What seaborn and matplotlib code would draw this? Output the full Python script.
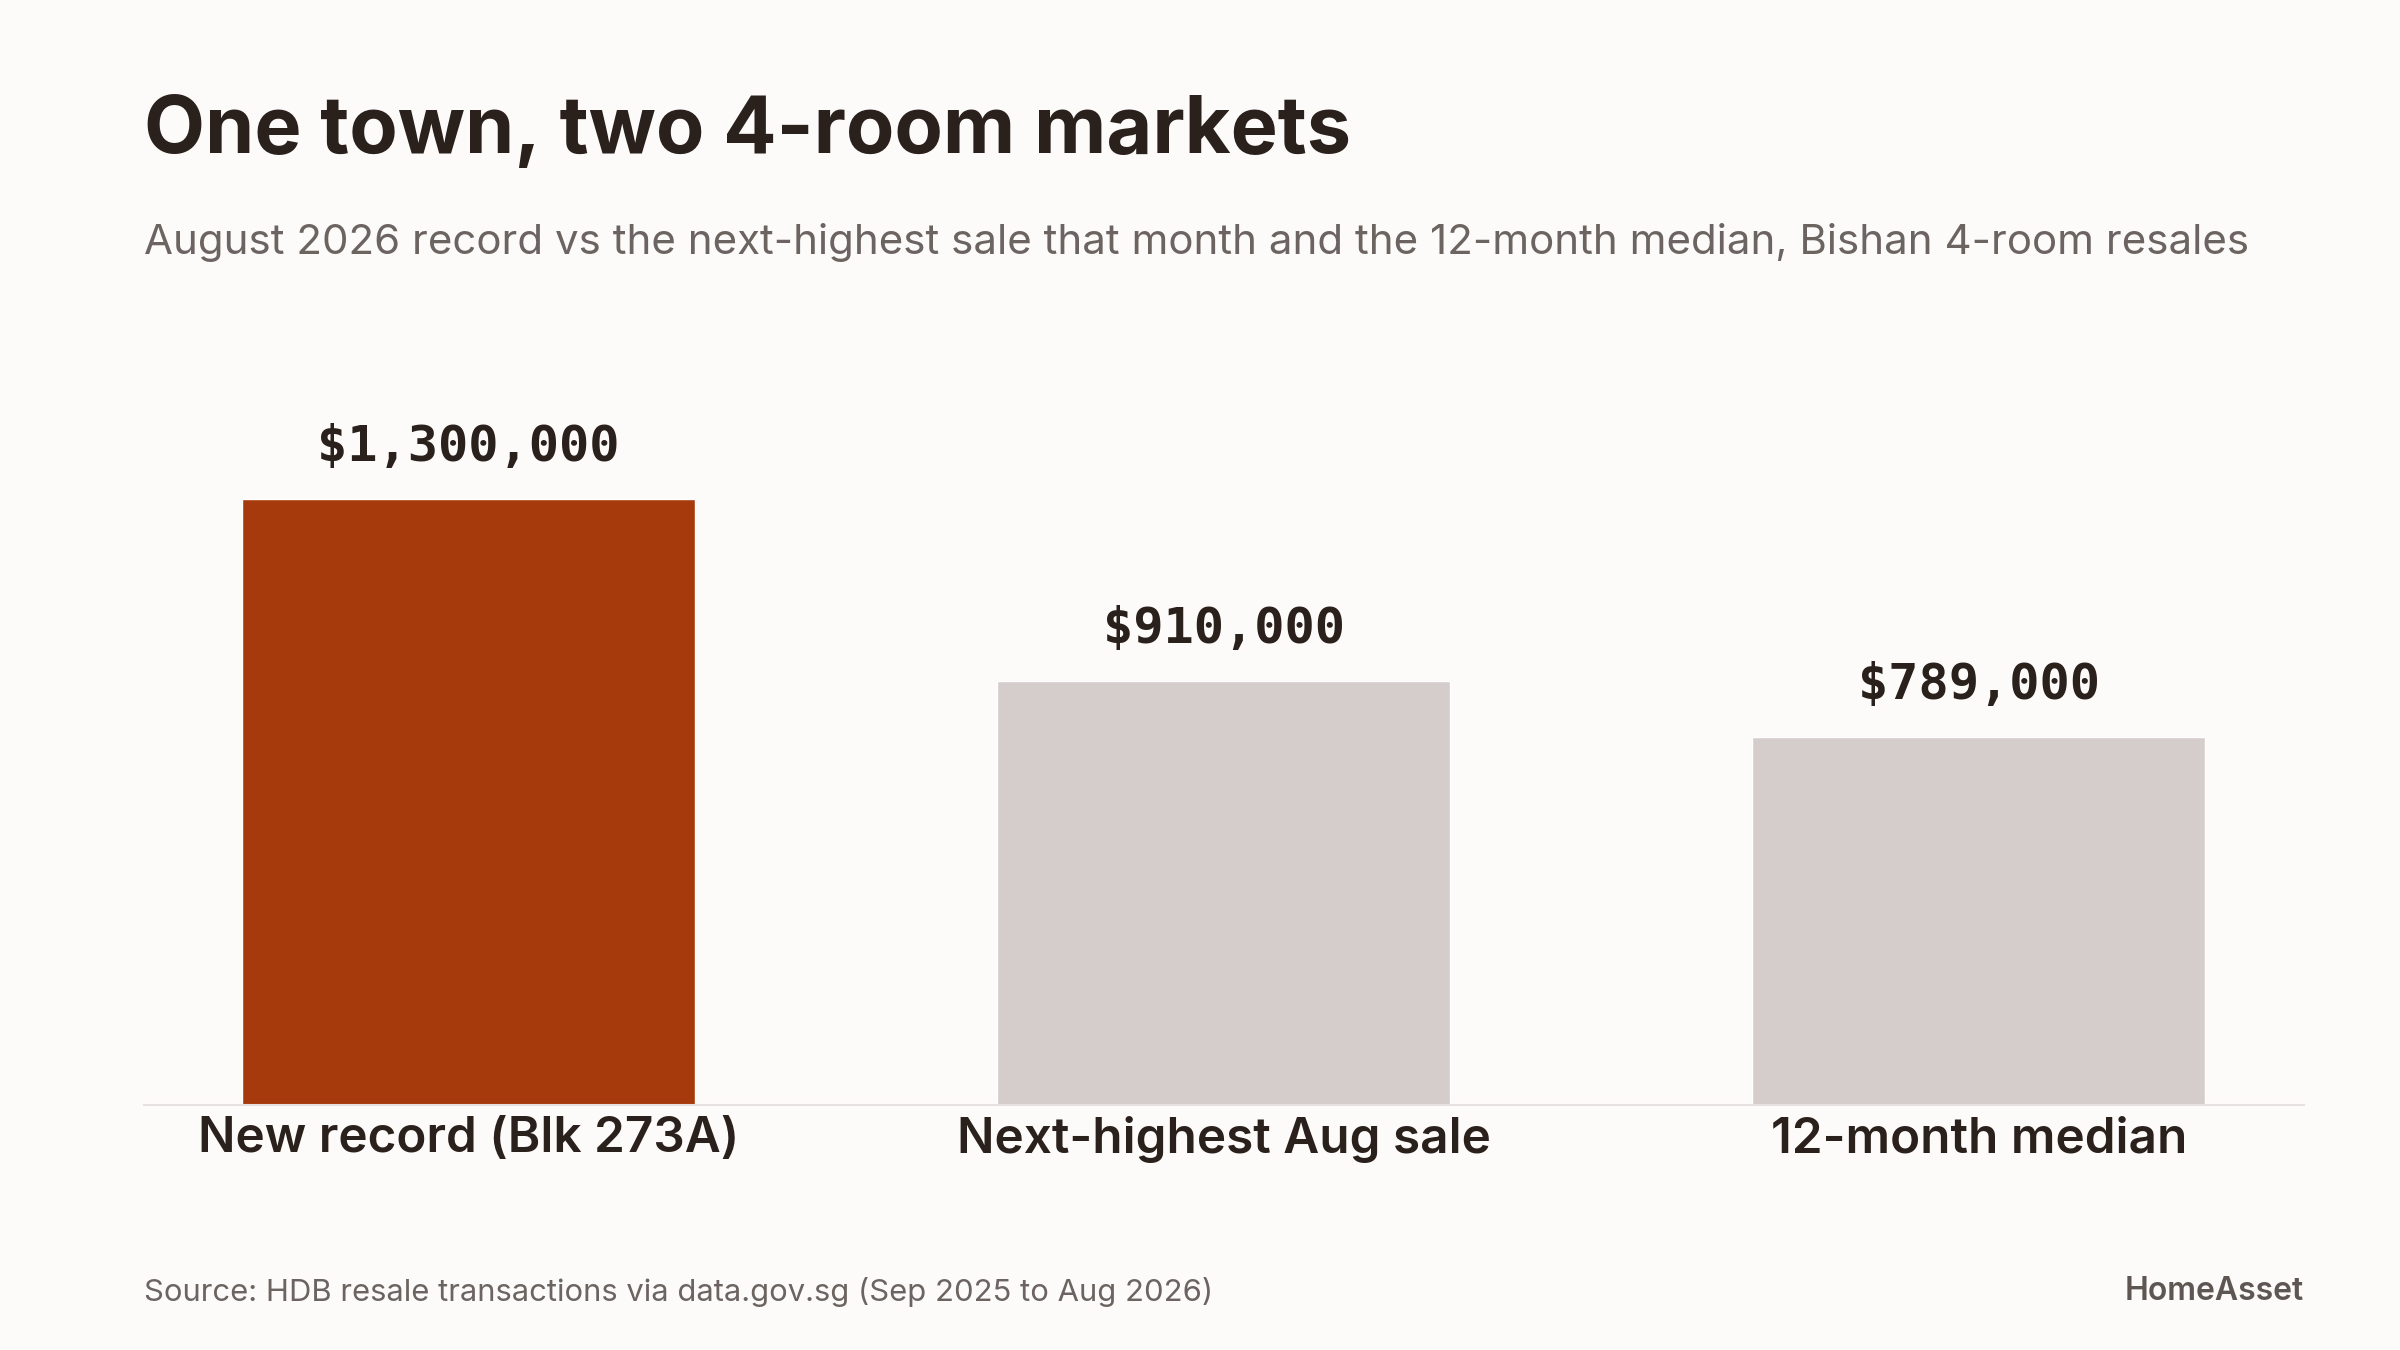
import matplotlib
matplotlib.use("Agg")
import matplotlib.pyplot as plt
import seaborn as sns
import pandas as pd

# ---- data ----
categories = ["New record (Blk 273A)", "Next-highest Aug sale", "12-month median"]
values = [1300000, 910000, 789000]
bar_colors = ["#a63a0d", "#d5cdcb", "#d5cdcb"]

title = "One town, two 4-room markets"
subtitle = ("August 2026 record vs the next-highest sale that month and the 12-month median, "
            "Bishan 4-room resales")
source = "Source: HDB resale transactions via data.gov.sg (Sep 2025 to Aug 2026)"
brand = "HomeAsset"

BG = "#fdfbfa"
DARK = "#2a201c"
GREY = "#6b6460"

sns.set_theme(style="white")
plt.rcParams["font.family"] = ["Inter", "DejaVu Sans"]

fig = plt.figure(figsize=(24, 13.5), dpi=100, facecolor=BG)
ax = fig.add_axes([0.05995, 0.1814, 0.8999, 0.5612])
ax.set_facecolor(BG)

df = pd.DataFrame({"category": categories, "value": values})
sns.barplot(data=df, x="category", y="value", hue="category", palette=bar_colors,
            width=0.6, saturation=1, legend=False, ax=ax)

ax.set_xlim(-0.43, 2.43)
ax.set_ylim(0, max(values) * 1.25)
ax.set_xlabel("")
ax.set_ylabel("")
ax.set_yticks([])
for s in ["top", "right", "left"]:
    ax.spines[s].set_visible(False)
ax.spines["bottom"].set_color("#e6e0de")
ax.spines["bottom"].set_linewidth(1.5)
ax.tick_params(axis="x", length=0, pad=8)
for lab in ax.get_xticklabels():
    lab.set_fontsize(35.6)
    lab.set_fontweight("semibold")
    lab.set_color(DARK)

for p, v in zip(ax.patches, values):
    ax.annotate(f"${v:,.0f}", (p.get_x() + p.get_width() / 2, p.get_height()),
                xytext=(0, 20), textcoords="offset points", ha="center", va="bottom",
                fontsize=36.2, family="DejaVu Sans Mono", fontweight="bold", color=DARK)

fig.text(0.05995, 1 - 153 / 1350, title, fontsize=57, fontweight="bold", color=DARK,
         ha="left", va="baseline")
fig.text(0.05995, 1 - 243 / 1350, subtitle, fontsize=30.25, color=GREY, ha="left", va="center")
fig.text(0.05995, 1 - 1292 / 1350, source, fontsize=22.3, color=GREY, ha="left", va="center")
fig.text(0.9598, 1 - 1292 / 1350, brand, fontsize=23, fontweight="semibold", color="#5e5652",
         ha="right", va="center")

fig.savefig("out.png", dpi=100, facecolor=BG)
